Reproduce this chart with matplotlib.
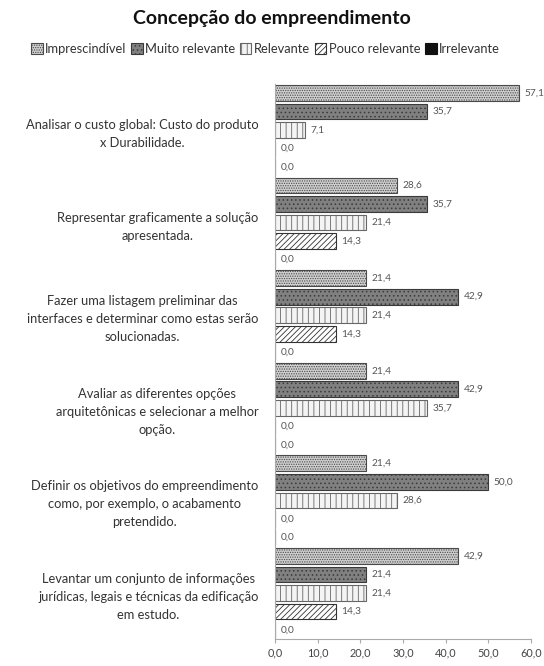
import matplotlib.pyplot as plt
from matplotlib.patches import Patch

plt.rcParams["font.family"] = ["Lato", "DejaVu Sans"]
plt.rcParams["hatch.linewidth"] = 0.6

TITLE = "Concepção do empreendimento"

categories = [
    "Analisar o custo global: Custo do produto\nx Durabilidade.",
    "Representar graficamente a solução\napresentada.",
    "Fazer uma listagem preliminar das\ninterfaces e determinar como estas serão\nsolucionadas.",
    "Avaliar as diferentes opções\narquitetônicas e selecionar a melhor\nopção.",
    "Definir os objetivos do empreendimento\ncomo, por exemplo, o acabamento\npretendido.",
    "Levantar um conjunto de informações\njurídicas, legais e técnicas da edificação\nem estudo.",
]

series_names = ["Imprescindível", "Muito relevante", "Relevante", "Pouco relevante", "Irrelevante"]

imprescindivel = [57.1, 28.6, 21.4, 21.4, 21.4, 42.9]
muito_relevante = [35.7, 35.7, 42.9, 42.9, 50.0, 21.4]
relevante = [7.1, 21.4, 21.4, 35.7, 28.6, 21.4]
pouco_relevante = [0.0, 14.3, 14.3, 0.0, 0.0, 14.3]
irrelevante = [0.0, 0.0, 0.0, 0.0, 0.0, 0.0]

x_ticks = [0, 10, 20, 30, 40, 50, 60]

series_values = [imprescindivel, muito_relevante, relevante, pouco_relevante, irrelevante]
styles = [
    dict(facecolor="#cfcfcf", edgecolor="#4a4a4a", hatch="......."),
    dict(facecolor="#808080", edgecolor="#3a3a3a", hatch="...."),
    dict(facecolor="#f4f4f4", edgecolor="#666666", hatch="|||"),
    dict(facecolor="#ffffff", edgecolor="#333333", hatch="//////"),
    dict(facecolor="#111111", edgecolor="#111111", hatch=None),
]

fig = plt.figure(figsize=(5.44, 6.66), dpi=100)
ax = fig.add_axes([0.5055, 0.0401, 0.4706, 0.8342])

n_series = len(series_values)
for s, (vals, st) in enumerate(zip(series_values, styles)):
    ys = [g * n_series + s for g in range(len(categories))]
    ax.barh(ys, vals, height=0.85, linewidth=0.8, **st)
    for y, v in zip(ys, vals):
        ax.text(v + 1.3, y, f"{v:.1f}".replace(".", ","), va="center", ha="left",
                fontsize=7.3, color="#555555")

total = len(categories) * n_series
ax.set_ylim(total - 0.5, -0.5)
ax.set_xlim(0, 60)
ax.set_xticks(x_ticks)
ax.set_xticklabels([f"{t:.1f}".replace(".", ",") for t in x_ticks], fontsize=7.8, color="#444444")
ax.tick_params(axis="x", length=3, color="#aaaaaa", pad=3)

centers = [g * n_series + (n_series - 1) / 2 for g in range(len(categories))]
ax.set_yticks(centers)
ax.set_yticklabels(categories, fontsize=9.3, color="#333333", multialignment="center",
                   linespacing=1.6)
ax.tick_params(axis="y", length=0, pad=12)

for side in ["top", "right"]:
    ax.spines[side].set_visible(False)
ax.spines["left"].set_color("#aaaaaa")
ax.spines["bottom"].set_color("#aaaaaa")

fig.text(0.5, 0.972, TITLE, ha="center", va="center", fontsize=14, fontweight="bold",
         color="#111111")

handles = [Patch(label=n, linewidth=0.8, **st) for n, st in zip(series_names, styles)]
fig.legend(handles=handles, loc="center", bbox_to_anchor=(0.488, 0.926), ncol=5,
           frameon=False, handlelength=0.9, handleheight=0.9,
           handletextpad=0.2, columnspacing=0.35, labelcolor="#333333",
           prop={"size": 9.3})

fig.savefig("out.png", dpi=100)
